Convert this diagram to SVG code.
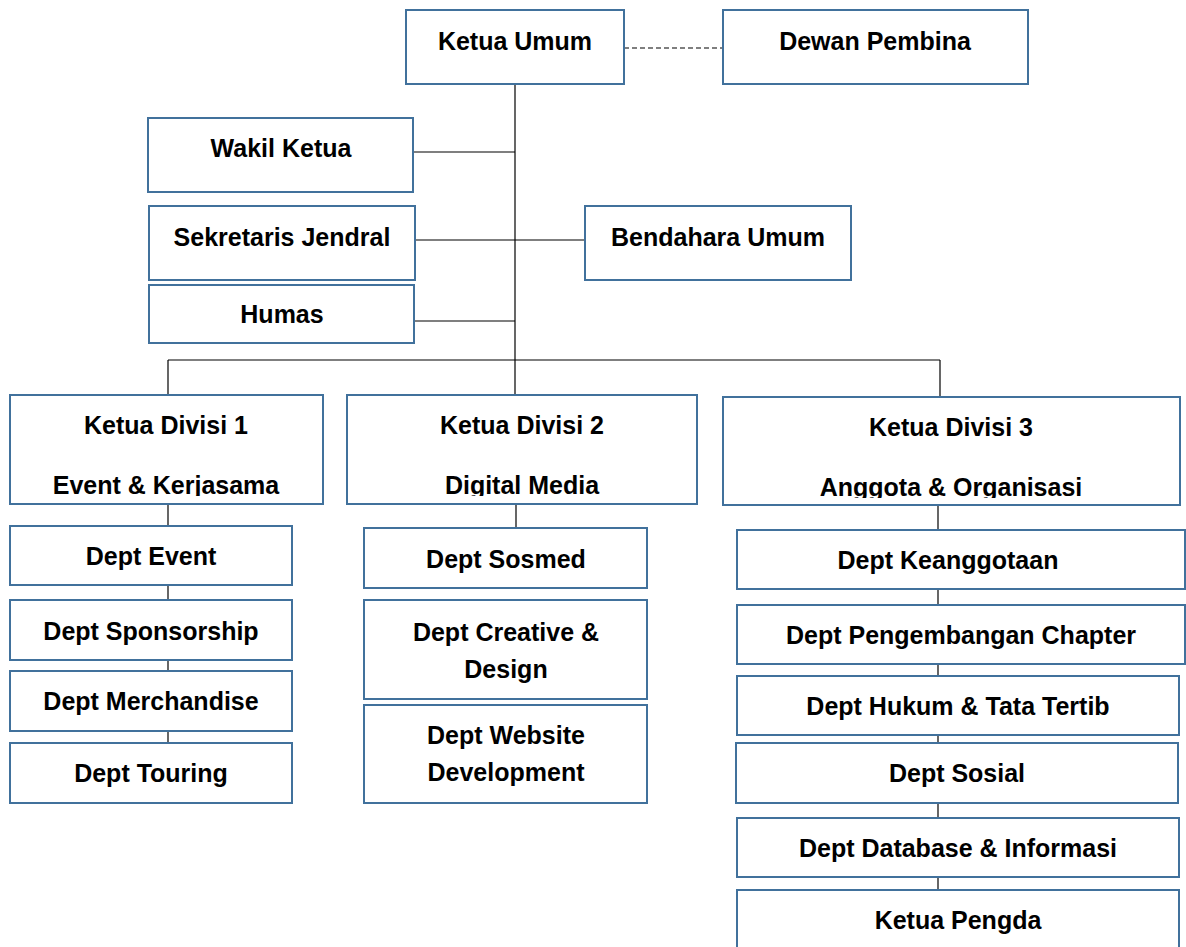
<svg xmlns="http://www.w3.org/2000/svg" width="1186" height="947" viewBox="0 0 1186 947">
<style>
.box{fill:#fff;stroke:#41719C;stroke-width:2}
.t{font-family:"Liberation Sans",Arial,sans-serif;font-weight:bold;font-size:25px;fill:#000;text-anchor:middle}
.c{stroke:#000;stroke-width:1.2;fill:none}
</style>
<defs>
<clipPath id="cd1"><rect x="11" y="396" width="311" height="100"/></clipPath>
<clipPath id="cd2"><rect x="348" y="396" width="348" height="100"/></clipPath>
<clipPath id="cd3"><rect x="724" y="398" width="455" height="100"/></clipPath>
</defs>
<rect width="1186" height="947" fill="#fff"/>
<g id="connectors">
<line class="c" x1="624" y1="48" x2="723" y2="48" stroke-dasharray="5,3"/>
<line class="c" x1="515" y1="84" x2="515" y2="395"/>
<line class="c" x1="413" y1="152" x2="515" y2="152"/>
<line class="c" x1="415" y1="240" x2="585" y2="240"/>
<line class="c" x1="414" y1="321" x2="515" y2="321"/>
<line class="c" x1="168" y1="360" x2="940" y2="360"/>
<line class="c" x1="168" y1="360" x2="168" y2="395"/>
<line class="c" x1="940" y1="360" x2="940" y2="397"/>
<line class="c" x1="168" y1="504" x2="168" y2="743"/>
<line class="c" x1="516" y1="504" x2="516" y2="528"/>
<line class="c" x1="938" y1="505" x2="938" y2="890"/>
</g>
<g id="ketua-umum"><rect class="box" x="406" y="10" width="218" height="74"/><text class="t" x="515" y="50">Ketua Umum</text></g>
<g id="dewan-pembina"><rect class="box" x="723" y="10" width="305" height="74"/><text class="t" x="875" y="50">Dewan Pembina</text></g>
<g id="wakil-ketua"><rect class="box" x="148" y="118" width="265" height="74"/><text class="t" x="281" y="157">Wakil Ketua</text></g>
<g id="sekretaris-jendral"><rect class="box" x="149" y="206" width="266" height="74"/><text class="t" x="282" y="246">Sekretaris Jendral</text></g>
<g id="bendahara-umum"><rect class="box" x="585" y="206" width="266" height="74"/><text class="t" x="718" y="246">Bendahara Umum</text></g>
<g id="humas"><rect class="box" x="149" y="285" width="265" height="58"/><text class="t" x="282" y="323">Humas</text></g>
<g id="ketua-divisi-1"><rect class="box" x="10" y="395" width="313" height="109"/><g clip-path="url(#cd1)"><text class="t" x="166" y="434">Ketua Divisi 1</text><text class="t" x="166" y="494">Event &amp; Kerjasama</text></g></g>
<g id="ketua-divisi-2"><rect class="box" x="347" y="395" width="350" height="109"/><g clip-path="url(#cd2)"><text class="t" x="522" y="434">Ketua Divisi 2</text><text class="t" x="522" y="494">Digital Media</text></g></g>
<g id="ketua-divisi-3"><rect class="box" x="723" y="397" width="457" height="108"/><g clip-path="url(#cd3)"><text class="t" x="951" y="436">Ketua Divisi 3</text><text class="t" x="951" y="496">Anggota &amp; Organisasi</text></g></g>
<g id="dept-event"><rect class="box" x="10" y="526" width="282" height="59"/><text class="t" x="151" y="565">Dept Event</text></g>
<g id="dept-sponsorship"><rect class="box" x="10" y="600" width="282" height="60"/><text class="t" x="151" y="640">Dept Sponsorship</text></g>
<g id="dept-merchandise"><rect class="box" x="10" y="671" width="282" height="60"/><text class="t" x="151" y="710">Dept Merchandise</text></g>
<g id="dept-touring"><rect class="box" x="10" y="743" width="282" height="60"/><text class="t" x="151" y="782">Dept Touring</text></g>
<g id="dept-sosmed"><rect class="box" x="364" y="528" width="283" height="60"/><text class="t" x="506" y="568">Dept Sosmed</text></g>
<g id="dept-creative"><rect class="box" x="364" y="600" width="283" height="99"/><text class="t" x="506" y="641">Dept Creative &amp;</text><text class="t" x="506" y="678">Design</text></g>
<g id="dept-website"><rect class="box" x="364" y="705" width="283" height="98"/><text class="t" x="506" y="744">Dept Website</text><text class="t" x="506" y="781">Development</text></g>
<g id="dept-keanggotaan"><rect class="box" x="737" y="530" width="448" height="59"/><text class="t" x="948" y="569">Dept Keanggotaan</text></g>
<g id="dept-pengembangan"><rect class="box" x="737" y="605" width="448" height="59"/><text class="t" x="961" y="644">Dept Pengembangan Chapter</text></g>
<g id="dept-hukum"><rect class="box" x="737" y="676" width="442" height="59"/><text class="t" x="958" y="715">Dept Hukum &amp; Tata Tertib</text></g>
<g id="dept-sosial"><rect class="box" x="736" y="743" width="442" height="60"/><text class="t" x="957" y="782">Dept Sosial</text></g>
<g id="dept-database"><rect class="box" x="737" y="818" width="442" height="59"/><text class="t" x="958" y="857">Dept Database &amp; Informasi</text></g>
<g id="ketua-pengda"><rect class="box" x="737" y="890" width="442" height="60"/><text class="t" x="958" y="929">Ketua Pengda</text></g>
</svg>
